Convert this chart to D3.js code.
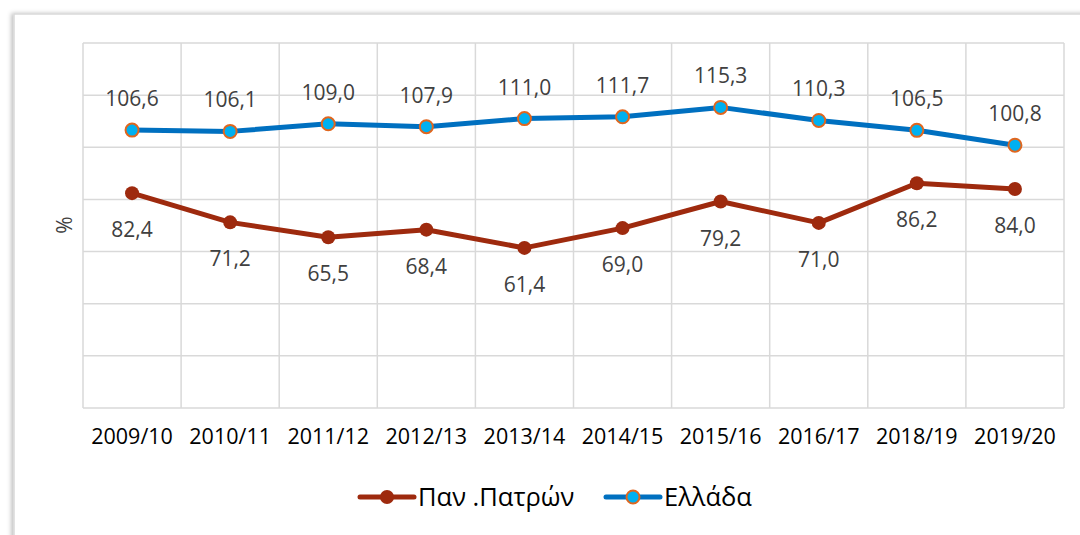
<!DOCTYPE html>
<html>
<head>
<meta charset="utf-8">
<script src="https://cdn.jsdelivr.net/npm/d3@7"></script>
<style>
  html, body { margin: 0; padding: 0; background: #fff; }
  svg { display: block; font-family: "Open Sans", "Noto Sans", sans-serif; }
</style>
</head>
<body>
<svg id="chart" width="1080" height="535"></svg>
<script>
// years and series
const years = ["2009/10", "2010/11", "2011/12", "2012/13", "2013/14", "2014/15", "2015/16", "2016/17", "2018/19", "2019/20"];
const patrasValues = [82.4, 71.2, 65.5, 68.4, 61.4, 69.0, 79.2, 71.0, 86.2, 84.0];
const greeceValues = [106.6, 106.1, 109.0, 107.9, 111.0, 111.7, 115.3, 110.3, 106.5, 100.8];
const yTicks = [0, 20, 40, 60, 80, 100, 120, 140];
const seriesNames = ["Παν .Πατρών", "Ελλάδα"];

(function renderChart() {
  const svg = d3.select("#chart");
  const margin = { top: 43, right: 16, bottom: 127, left: 83 };
  const width = 1080 - margin.left - margin.right;
  const height = 535 - margin.top - margin.bottom;

  // chart frame with soft shadow
  const defs = svg.append("defs");
  const f = defs.append("filter").attr("id", "shadow").attr("x", "-5%").attr("y", "-5%").attr("width", "110%").attr("height", "110%");
  f.append("feDropShadow").attr("dx", -2).attr("dy", 0).attr("stdDeviation", 2).attr("flood-color", "#000").attr("flood-opacity", 0.25);
  svg.append("rect")
    .attr("x", 14).attr("y", 14).attr("width", 1100).attr("height", 560)
    .attr("fill", "#fff").attr("stroke", "#d9d9d9").attr("stroke-width", 1.5)
    .attr("filter", "url(#shadow)");

  const g = svg.append("g").attr("transform", `translate(${margin.left},${margin.top})`);

  const x = d3.scaleBand().domain(years).range([0, width]);
  const y = d3.scaleLinear().domain([0, 140]).range([height, 0]);
  const cx = d => x(d) + x.bandwidth() / 2;

  // gridlines
  g.append("g").selectAll("line").data(yTicks).enter().append("line")
    .attr("x1", 0).attr("x2", width)
    .attr("y1", d => y(d)).attr("y2", d => y(d))
    .attr("stroke", "#d9d9d9").attr("stroke-width", 1.5);
  g.append("g").selectAll("line").data(years.concat(["end"])).enter().append("line")
    .attr("x1", (d, i) => i * x.bandwidth()).attr("x2", (d, i) => i * x.bandwidth())
    .attr("y1", 0).attr("y2", height)
    .attr("stroke", "#d9d9d9").attr("stroke-width", 1.5);

  // x axis labels
  const xAxis = g.append("g")
    .attr("transform", `translate(0,${height})`)
    .call(d3.axisBottom(x).tickSize(0).tickPadding(21));
  xAxis.select(".domain").remove();
  xAxis.selectAll("text").attr("font-size", 21.5).attr("fill", "#000").attr("font-family", "Open Sans");

  // y axis title
  svg.append("text")
    .attr("transform", "translate(72,225) rotate(-90)")
    .attr("text-anchor", "middle")
    .attr("font-size", 21).attr("fill", "#404040")
    .text("%");

  const line = d3.line().x((d, i) => cx(years[i])).y(d => y(d));
  const fmt = v => v.toFixed(1).replace(".", ",");

  // Patras series
  g.append("path").datum(patrasValues)
    .attr("d", line).attr("fill", "none")
    .attr("stroke", "#9E2A0E").attr("stroke-width", 5).attr("stroke-linejoin", "round");
  g.selectAll(".pm").data(patrasValues).enter().append("circle")
    .attr("cx", (d, i) => cx(years[i])).attr("cy", d => y(d)).attr("r", 7)
    .attr("fill", "#9E2A0E");
  g.selectAll(".pl").data(patrasValues).enter().append("text")
    .attr("x", (d, i) => cx(years[i])).attr("y", d => y(d) + 44)
    .attr("text-anchor", "middle").attr("font-size", 21).attr("fill", "#404040")
    .text(fmt);

  // Greece series
  g.append("path").datum(greeceValues)
    .attr("d", line).attr("fill", "none")
    .attr("stroke", "#0070C0").attr("stroke-width", 5).attr("stroke-linejoin", "round");
  g.selectAll(".gm").data(greeceValues).enter().append("circle")
    .attr("cx", (d, i) => cx(years[i])).attr("cy", d => y(d)).attr("r", 6.5)
    .attr("fill", "#00B0F0").attr("stroke", "#E0661E").attr("stroke-width", 2);
  g.selectAll(".gl").data(greeceValues).enter().append("text")
    .attr("x", (d, i) => cx(years[i])).attr("y", d => y(d) - 24)
    .attr("text-anchor", "middle").attr("font-size", 21).attr("fill", "#404040")
    .text(fmt);

  // legend
  const legend = svg.append("g");
  const items = [
    { x: 360, name: seriesNames[0], stroke: "#9E2A0E", fill: "#9E2A0E", ms: "none", r: 7 },
    { x: 606, name: seriesNames[1], stroke: "#0070C0", fill: "#00B0F0", ms: "#E0661E", r: 6.5 }
  ];
  items.forEach(it => {
    const lg = legend.append("g").attr("transform", `translate(${it.x},497)`);
    lg.append("line").attr("x1", 0).attr("x2", 54).attr("y1", 0).attr("y2", 0)
      .attr("stroke", it.stroke).attr("stroke-width", 5).attr("stroke-linecap", "round");
    lg.append("circle").attr("cx", 27).attr("cy", 0).attr("r", it.r)
      .attr("fill", it.fill).attr("stroke", it.ms).attr("stroke-width", 2);
    lg.append("text").attr("x", 58).attr("y", 0).attr("dy", "0.35em")
      .attr("font-size", 25.5).attr("fill", "#000").text(it.name);
  });
})();
</script>
</body>
</html>
